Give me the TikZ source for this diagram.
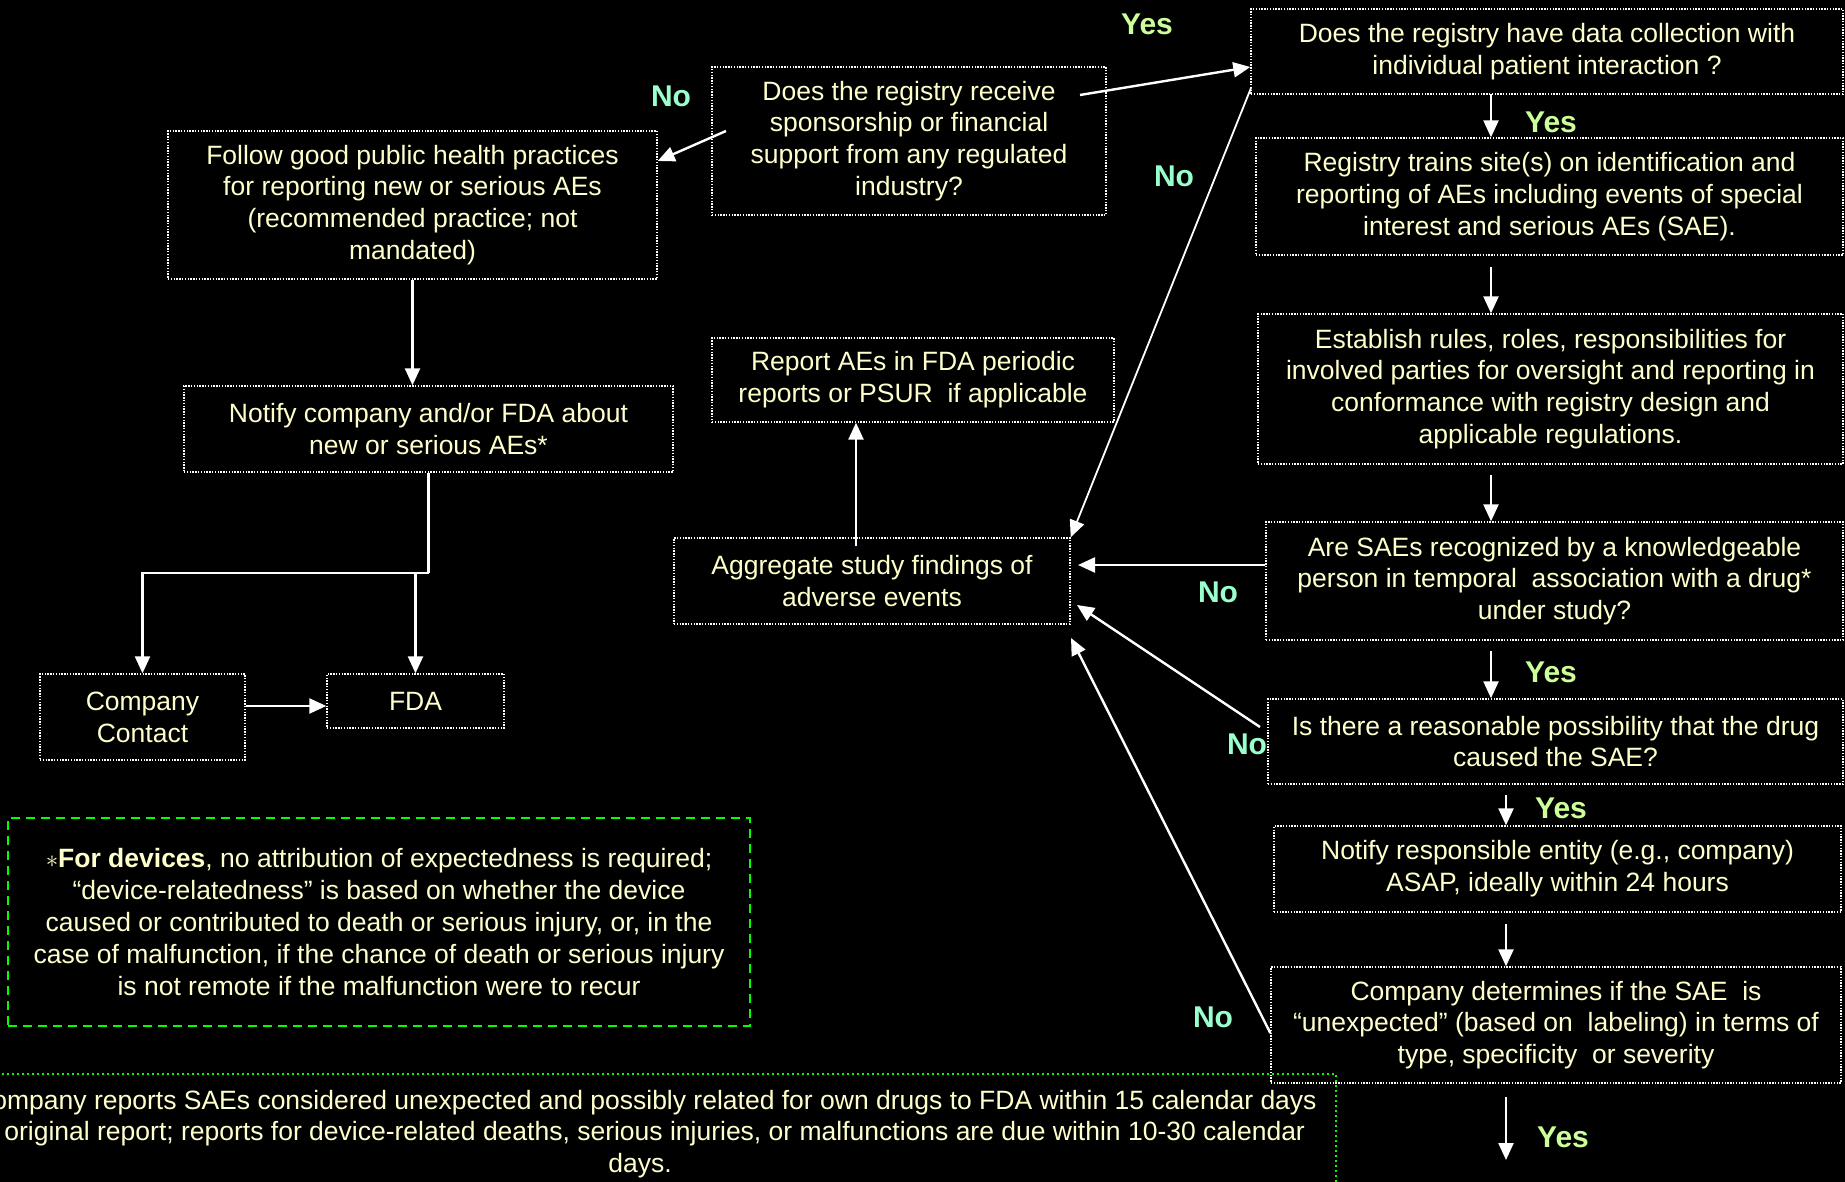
\documentclass[tikz,border=0pt]{standalone}
\usepackage{fontspec}
\setmainfont{Liberation Sans}
\usetikzlibrary{arrows.meta,calc}
\definecolor{cream}{HTML}{FFFFCC}
\definecolor{yescol}{HTML}{CCFF99}
\definecolor{nocol}{HTML}{99FFCC}
\definecolor{brightgreen}{HTML}{00FF00}
\newcommand{\bodyfont}{\fontsize{26.5}{31.8}\selectfont}
\newcommand{\labfont}{\fontsize{30}{34}\selectfont\bfseries}
\begin{document}
\begin{tikzpicture}[x=1pt,y=-1pt,
  box/.style={draw=white, line width=1.4pt, dash pattern=on 1.4pt off 1.4pt,
    text=cream, align=center, font=\bodyfont, inner sep=0pt},
  devbox/.style={draw=brightgreen, line width=2pt, dash pattern=on 9pt off 6pt,
    text=cream, align=center, font=\bodyfont, inner sep=0pt},
  arr/.style={draw=white, line width=2.4pt, -{Triangle[length=17pt,width=15pt]}},
  plain/.style={draw=white, line width=2.4pt},
  yeslab/.style={text=yescol, font=\labfont, inner sep=0pt},
  nolab/.style={text=nocol, font=\labfont, inner sep=0pt}]
\useasboundingbox (0,0) rectangle (1845,1182);
\fill[black] (0,0) rectangle (1845,1182);

% left / middle boxes
\node[box, minimum width=394pt, minimum height=148pt] (q1) at (909,141)
  {Does the registry receive\\sponsorship or financial\\support from any regulated\\industry?};
\node[box, minimum width=489pt, minimum height=148pt] (follow) at (412.5,205)
  {Follow good public health practices\\for reporting new or serious AEs\\(recommended practice; not\\mandated)};
\node[box, minimum width=489pt, minimum height=86pt] (notifyco) at (428.5,429)
  {Notify company and/or FDA about\\new or serious AEs*};
\node[box, minimum width=402pt, minimum height=84pt] (report) at (913,380)
  {Report AEs in FDA periodic\\reports or PSUR\ \ if applicable};
\node[box, minimum width=396pt, minimum height=86pt] (agg) at (872,581)
  {Aggregate study findings of\\adverse events};
\node[box, minimum width=205pt, minimum height=86pt] (company) at (142.5,717)
  {Company\\Contact};
\node[box, minimum width=177pt, minimum height=54pt] (fda) at (415.5,701) {FDA};
\node[devbox, minimum width=742pt, minimum height=208pt] (devices) at (379,922)
  {$\ast$\textbf{For devices}, no attribution of expectedness is required;\\
   “device-relatedness” is based on whether the device\\
   caused or contributed to death or serious injury, or, in the\\
   case of malfunction, if the chance of death or serious injury\\
   is not remote if the malfunction were to recur};

% bottom box (extends past the page)
\draw[brightgreen, line width=2.4pt, dash pattern=on 2.4pt off 2.6pt]
  (-62,1250) -- (-62,1074) -- (1336,1074) -- (1336,1250);
\node[text=cream, align=center, font=\bodyfont, inner sep=0pt] (bottomtext) at (640,1134)
  {\hspace*{10pt}Company reports SAEs considered unexpected and possibly related for own drugs to FDA within 15 calendar days\\
   of original report; reports for device-related deaths, serious injuries, or malfunctions are due within 10-30 calendar\\
   days.};

% right column
\node[box, minimum width=592pt, minimum height=85pt] (q2) at (1547,51.5)
  {Does the registry have data collection with\\individual patient interaction ?};
\node[box, minimum width=587pt, minimum height=117pt] (trains) at (1549.5,196.5)
  {Registry trains site(s) on identification and\\reporting of AEs including events of special\\interest and serious AEs (SAE).};
\node[box, minimum width=585pt, minimum height=150pt] (establish) at (1550.5,389)
  {Establish rules, roles, responsibilities for\\involved parties for oversight and reporting in\\conformance with registry design and\\applicable regulations.};
\node[box, minimum width=577pt, minimum height=118pt] (aresae) at (1554.5,581)
  {Are SAEs recognized by a knowledgeable\\person in temporal\ \ association with a drug*\\under study?};
\node[box, minimum width=575pt, minimum height=85pt] (reasonable) at (1555.5,741.5)
  {Is there a reasonable possibility that the drug\\caused the SAE?};
\node[box, minimum width=567pt, minimum height=86pt] (notifyresp) at (1557.5,869)
  {Notify responsible entity (e.g., company)\\ASAP, ideally within 24 hours};
\node[box, minimum width=570pt, minimum height=116pt] (companydet) at (1556,1025)
  {Company determines if the SAE\ \ is\\“unexpected” (based on\ \ labeling) in terms of\\type, specificity\ \ or severity};

% labels
\node[yeslab] (yes1) at (1147,24) {Yes};
\node[nolab] (no1) at (671,96) {No};
\node[nolab] (no2) at (1174,176) {No};
\node[yeslab] (yes2) at (1551,122) {Yes};
\node[nolab] (no3) at (1218,592) {No};
\node[yeslab] (yes3) at (1551,672) {Yes};
\node[nolab] (no4) at (1247,744) {No};
\node[yeslab] (yes4) at (1561,808) {Yes};
\node[nolab] (no5) at (1213,1017) {No};
\node[yeslab] (yes5) at (1563,1137) {Yes};

% connector points
\coordinate (q1yes) at (1080,95);
\coordinate (q1no) at (726,131);
\coordinate (q2no) at (1251,88);
\coordinate (aggin1) at (1078,565);
\coordinate (aggin2) at (1077,605);
\coordinate (aggin3) at (1071,638);
\coordinate (junc) at (428.5,573);
\coordinate (yesend) at (1506,1160);

% connectors
\draw[arr] (q1yes) -- (q2.west |- 0,67);
\draw[arr] (q1no) -- (follow.east |- 0,161);
\draw[arr] (follow.south) -- (follow.south |- notifyco.north);
\draw[plain] (notifyco.south) -- (junc);
\draw[arr] (junc) -- (company.north |- junc) -- (company.north);
\draw[arr] (fda.north |- junc) -- (fda.north);
\draw[arr] (company.east |- 0,706) -- (fda.west |- 0,706);
\draw[arr] (856,546) -- (856,0 |- report.south);
\draw[arr, line width=1.8pt] (q2no) -- (agg.north east);
\draw[arr] (1491,94) -- (1491,0 |- trains.north);
\draw[arr] (1491,267) -- (1491,0 |- establish.north);
\draw[arr] (1491,475) -- (1491,0 |- aresae.north);
\draw[arr] (aresae.west |- aggin1) -- (aggin1);
\draw[arr] (1491,651) -- (1491,0 |- reasonable.north);
\draw[arr] (1260,727) -- (aggin2);
\draw[arr] (1506,795) -- (1506,0 |- notifyresp.north);
\draw[arr] (1506,924) -- (1506,0 |- companydet.north);
\draw[arr] (companydet.west |- 0,1033) -- (aggin3);
\draw[arr] (1506,1097) -- (yesend);
\end{tikzpicture}
\end{document}
